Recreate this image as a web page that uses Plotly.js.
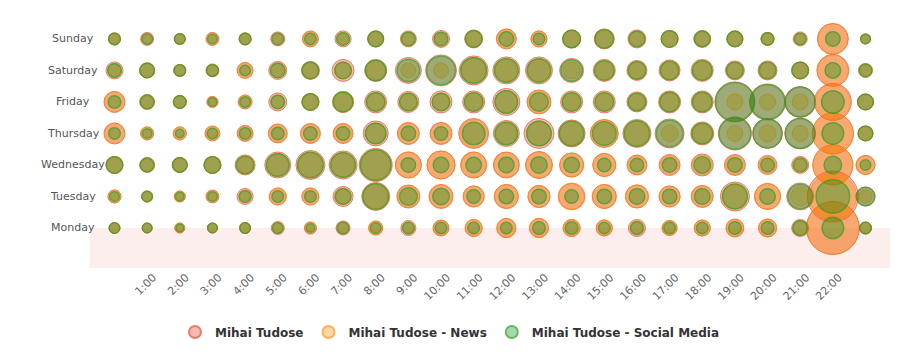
<!DOCTYPE html>
<html>
<head>
<meta charset="utf-8">
<script src="https://cdn.plot.ly/plotly-3.0.1.min.js"></script>
<style>html,body{margin:0;padding:0;background:#fff;}#chart{width:900px;height:360px;}</style>
</head>
<body>
<div id="chart"></div>
<script>
// Rows (bottom to top) and hour slots
const days = ['Monday','Tuesday','Wednesday','Thursday','Friday','Saturday','Sunday'];
const hourSlots = [0,1,2,3,4,5,6,7,8,9,10,11,12,13,14,15,16,17,18,19,20,21,22,23];
const tickHours = [1,2,3,4,5,6,7,8,9,10,11,12,13,14,15,16,17,18,19,20,21,22];
const tickLabels = ['1:00','2:00','3:00','4:00','5:00','6:00','7:00','8:00','9:00','10:00','11:00',
  '12:00','13:00','14:00','15:00','16:00','17:00','18:00','19:00','20:00','21:00','22:00'];

// Bubble sizes (px diameter) per day row, Monday..Sunday
const tudoseSize = [
  [12,11,11,11,12,14,13,15,15,16,17,18,20,20,18,17,18,16,17,19,19,18,54,13],
  [14,12,12,14,17,18,18,21,29,24,25,22,25,23,27,25,24,22,23,30,27,28,52,20],
  [18,16,16,18,21,27,30,29,34,27,29,27,27,28,25,24,21,22,23,22,20,18,41,20],
  [22,14,14,16,17,20,21,21,26,23,23,31,27,31,28,29,29,30,24,34,31,32,42,16],
  [22,16,14,12,15,19,18,22,23,22,23,23,28,25,23,23,21,23,23,41,37,32,38,17],
  [18,16,13,14,17,19,19,23,23,27,32,30,28,28,25,23,21,22,23,20,20,18,33,15],
  [13,14,12,14,13,15,17,17,17,17,18,19,21,17,19,21,19,18,18,17,14,15,32,11]
];
const newsSize = [
  [12,11,11,11,12,12,13,13,15,13,16,18,20,20,18,17,15,16,17,18,19,16,53,13],
  [14,12,12,13,14,18,18,18,27,23,24,22,25,23,28,25,24,22,22,27,27,20,48,14],
  [18,15,16,18,19,24,27,26,32,27,29,27,26,27,25,24,20,20,21,20,18,16,41,20],
  [21,14,14,15,16,19,20,20,22,22,22,29,24,26,26,28,26,18,22,17,18,17,42,16],
  [21,15,14,12,14,15,18,22,20,19,19,20,24,24,20,20,19,21,21,17,17,17,36,17],
  [15,16,13,13,16,16,18,18,21,16,16,27,25,24,18,21,19,20,21,18,18,18,32,14],
  [13,12,12,13,13,13,16,14,17,15,15,18,20,17,19,20,17,18,17,17,14,13,31,11]
];
const socialSize = [
  [12,11,9,11,12,12,10,13,12,13,13,13,13,14,14,13,14,13,13,14,14,16,23,13],
  [11,12,10,11,13,13,13,17,27,19,18,15,16,16,15,16,17,16,17,26,17,26,35,20],
  [18,15,16,18,19,24,27,26,32,16,17,17,17,18,17,15,15,16,18,16,15,15,19,12],
  [13,11,10,12,13,14,15,15,22,16,15,24,24,26,26,25,27,28,22,33,30,31,23,16],
  [14,15,14,10,12,15,18,21,20,19,19,20,24,20,20,20,19,21,21,40,36,31,24,17],
  [15,16,13,13,12,16,18,18,22,24,30,27,25,25,23,21,19,20,21,18,18,18,17,14],
  [13,12,12,11,13,13,13,14,17,15,15,18,16,13,19,20,17,18,17,17,14,13,16,11]
];

function flatten(sizes, lw) {
  const x = [], y = [], s = [];
  sizes.forEach((row, d) => row.forEach((v, h) => {
    x.push(hourSlots[h]); y.push(d); s.push(Math.max(1, v - lw));
  }));
  return {x, y, s};
}

const series = [
  {name: 'Mihai Tudose', data: tudoseSize, fill: 'rgba(228,60,30,0.5)', line: 'rgba(225,55,25,0.9)', lw: 1},
  {name: 'Mihai Tudose - News', data: newsSize, fill: 'rgba(255,140,0,0.5)', line: 'rgba(255,135,0,0.9)', lw: 1},
  {name: 'Mihai Tudose - Social Media', data: socialSize, fill: 'rgba(0,145,20,0.5)', line: 'rgb(40,155,30)', lw: 1.5}
];

const traces = series.map(sr => {
  const f = flatten(sr.data, sr.lw);
  return {
    type: 'scatter', mode: 'markers', name: sr.name,
    x: f.x, y: f.y,
    marker: {size: f.s, sizemode: 'diameter', color: sr.fill, line: {color: sr.line, width: sr.lw}},
    hoverinfo: 'x+y+name'
  };
});

const annotations = days.map((d, i) => ({
  xref: 'paper', yref: 'y', x: -17/800, y: i, text: d, showarrow: false,
  xanchor: 'center', yanchor: 'middle',
  font: {family: 'DejaVu Sans', size: 11, color: '#555'}
}));

const layout = {
  width: 900, height: 360,
  margin: {l: 90, r: 10, t: 20, b: 92},
  paper_bgcolor: '#fff', plot_bgcolor: 'rgba(0,0,0,0)',
  font: {family: 'DejaVu Sans', size: 11, color: '#555'},
  xaxis: {
    range: [-0.75, 23.75], tickmode: 'array', tickvals: tickHours, ticktext: tickLabels,
    tickangle: -45, showgrid: false, zeroline: false, showline: false, ticks: '',
    ticklabelshift: 6,
    tickfont: {family: 'DejaVu Sans', size: 11, color: '#666'}, fixedrange: true
  },
  yaxis: {
    range: [-1.27, 6.6], showticklabels: false, showgrid: false, zeroline: false, showline: false, ticks: ''
  },
  shapes: [{
    type: 'rect', layer: 'below', xref: 'paper', x0: 0, x1: 1, yref: 'y', y0: -1.27, y1: 0,
    fillcolor: '#fdeeee', line: {width: 0}
  }],
  annotations: annotations,
  showlegend: true,
  legend: {
    orientation: 'h', xref: 'container', yref: 'container', x: 0.5, xanchor: 'center',
    y: 1 - 332/360, yanchor: 'middle', itemsizing: 'constant',
    font: {family: 'DejaVu Sans', size: 12, color: '#333', weight: 'bold'}
  }
};

Plotly.newPlot('chart', traces, layout, {displayModeBar: false, staticPlot: true});
</script>
</body>
</html>
